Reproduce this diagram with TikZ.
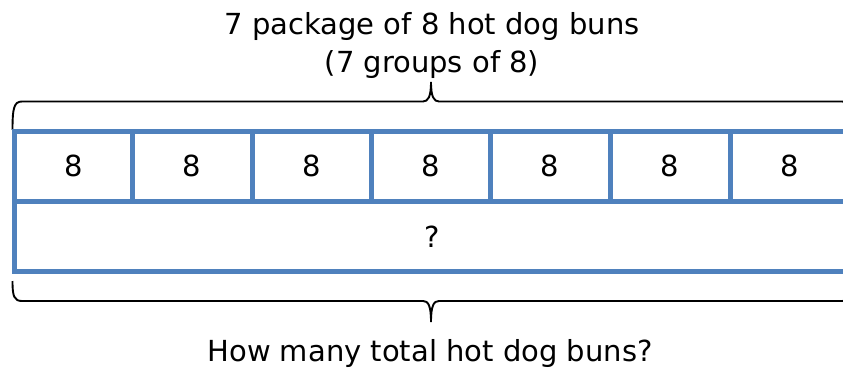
\documentclass[tikz,border=0pt]{standalone}
\usepackage{fontspec}
\setmainfont{DejaVu Sans}
\definecolor{barblue}{RGB}{79,129,189}
\begin{document}
\begin{tikzpicture}[x=1pt,y=-1pt,
  cell/.style={draw=barblue,line width=5pt,inner sep=0pt,outer sep=0pt,
    minimum height=70.5pt,font=\fontsize{29}{35}\selectfont},
  lbl/.style={font=\fontsize{29}{35}\selectfont,inner sep=0pt,anchor=base},
  brace/.style={draw=black,line width=1.9pt}]
\useasboundingbox (0,0) rectangle (843,369);
\clip (0,0) rectangle (843,369);
% braces
\draw[brace] (12.5,130) .. controls (12.5,108) and (14,101.5) .. (22,101.5)
  -- (423,101.5) .. controls (428,101.5) and (431,97) .. (431,82)
  .. controls (431,97) and (434,101.5) .. (439,101.5)
  -- (842,101.5) .. controls (850,101.5) and (851.5,108) .. (851.5,130);
\draw[brace] (12.5,281) .. controls (12.5,296) and (14,301) .. (22,301)
  -- (423,301) .. controls (428,301) and (431,305) .. (431,322)
  .. controls (431,305) and (434,301) .. (439,301)
  -- (842,301) .. controls (850,301) and (851.5,296) .. (851.5,281);
% cells
\node[cell,minimum width=117.5pt] (c1) at (73.25,166.25) {8};
\node[cell,minimum width=120pt] (c2) at (192,166.25) {8};
\node[cell,minimum width=119pt] (c3) at (311.5,166.25) {8};
\node[cell,minimum width=119pt] (c4) at (430.5,166.25) {8};
\node[cell,minimum width=120pt] (c5) at (550,166.25) {8};
\node[cell,minimum width=120pt] (c6) at (670,166.25) {8};
\node[cell,minimum width=120pt] (c7) at (790,166.25) {8};
\node[cell,minimum width=835.5pt,minimum height=69.5pt] (q) at (432.25,236.25) {?};
% labels
\node[lbl] (title1) at (432,35) {7 package of 8 hot dog buns};
\node[lbl] (title2) at (432,72.5) {(7 groups of 8)};
\node[lbl] (question) at (430,361) {How many total hot dog buns?};
\end{tikzpicture}
\end{document}
